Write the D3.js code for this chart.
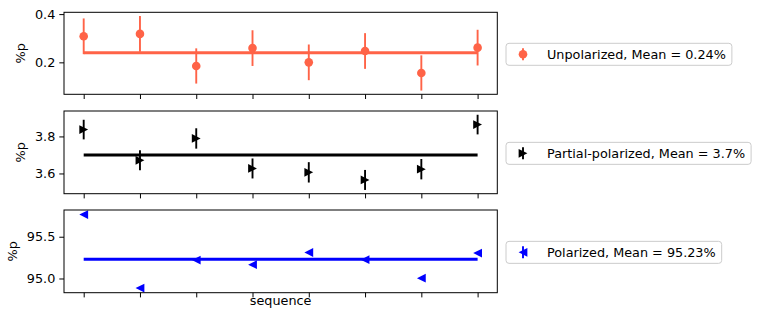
<!DOCTYPE html>
<html>
<head>
<meta charset="utf-8">
<script src="https://cdn.jsdelivr.net/npm/d3@7/dist/d3.min.js"></script>
<style>
  html, body { margin: 0; padding: 0; background: #fff; }
  svg { display: block; font-family: "DejaVu Sans", sans-serif; }
</style>
</head>
<body>
<svg id="chart" width="762" height="320"></svg>
<script>
// ---------------- data ----------------
const sequence = [0, 1, 2, 3, 4, 5, 6, 7];
const xTickLabels = ["", "", "", "", "", "", "", ""];

const unpolarized    = [0.308, 0.318, 0.185, 0.259, 0.200, 0.247, 0.156, 0.261];
const unpolarizedErr = [0.074, 0.074, 0.073, 0.074, 0.074, 0.074, 0.073, 0.074];

const partial    = [3.837, 3.671, 3.789, 3.627, 3.606, 3.565, 3.623, 3.864];
const partialErr = [0.053, 0.054, 0.055, 0.054, 0.055, 0.054, 0.055, 0.053];

const polarized    = [95.765, 94.885, 95.221, 95.166, 95.311, 95.225, 95.004, 95.304];
const polarizedErr = [0.01, 0.01, 0.01, 0.01, 0.01, 0.01, 0.01, 0.01];

const seriesNames = ["Unpolarized", "Partial-polarized", "Polarized"];
const means = [0.24, 3.7, 95.23];
const yTicks = [[0.2, 0.4], [3.6, 3.8], [95.0, 95.5]];
const yTickLabels = [["0.2", "0.4"], ["3.6", "3.8"], ["95.0", "95.5"]];
const colors = ["#ff6347", "#000000", "#0000ff"];
const markers = ["circle", "triRight", "triLeft"];
const yLabel = "%p";
const xLabel = "sequence";

// ---------------- layout ----------------
const svg = d3.select("#chart");
const left = 64, right = 497.3;
const panelsY = [[12.3, 94.3], [111, 193.7], [210, 292.7]];
const fontSize = 12.8;

const x = d3.scaleLinear().domain([-0.35, 7.35]).range([left, right]);

const allValues = [unpolarized, partial, polarized];
const allErrs = [unpolarizedErr, partialErr, polarizedErr];

function markerPath(type, s) {
  const h = s / 2;
  if (type === "triRight") return `M${h},0L${-h},${-h}L${-h},${h}Z`;
  if (type === "triLeft") return `M${-h},0L${h},${-h}L${h},${h}Z`;
  return d3.symbol(d3.symbolCircle, Math.PI * h * h)();
}

allValues.forEach((vals, p) => {
  const errs = allErrs[p];
  const [top, bottom] = panelsY[p];
  const lo = d3.min(vals.map((v, i) => v - errs[i]));
  const hi = d3.max(vals.map((v, i) => v + errs[i]));
  const pad = (hi - lo) * 0.05;
  const y = d3.scaleLinear().domain([lo - pad, hi + pad]).range([bottom, top]);
  const g = svg.append("g");
  const color = colors[p];

  // x axis ticks
  const xAxis = d3.axisBottom(x).tickValues(sequence).tickFormat((d, i) => xTickLabels[i])
    .tickSizeInner(4.7).tickSizeOuter(0);
  const gx = g.append("g").attr("transform", `translate(0,${bottom})`).call(xAxis);
  gx.select(".domain").remove();
  gx.selectAll("line").attr("stroke", "#000").attr("stroke-width", 1);

  // y axis
  const yAxis = d3.axisLeft(y).tickValues(yTicks[p]).tickFormat((d, i) => yTickLabels[p][i])
    .tickSizeInner(4.7).tickSizeOuter(0).tickPadding(4);
  const gy = g.append("g").attr("transform", `translate(${left},0)`).call(yAxis);
  gy.select(".domain").remove();
  gy.selectAll("line").attr("stroke", "#000").attr("stroke-width", 1);
  gy.selectAll("text").attr("font-size", fontSize).attr("font-family", "DejaVu Sans")
    .attr("fill", "#000");

  // y label
  let minX = Infinity;
  gy.selectAll("text").each(function () {
    const b = this.getBBox();
    minX = Math.min(minX, left + b.x);
  });
  const yc = (top + bottom) / 2;
  g.append("text").attr("transform", `translate(${minX - 9.5},${yc}) rotate(-90)`)
    .attr("text-anchor", "middle").attr("font-size", fontSize).attr("fill", "#000").text(yLabel);

  // mean line
  g.append("line")
    .attr("x1", x(sequence[0])).attr("x2", x(sequence[sequence.length - 1]))
    .attr("y1", y(means[p])).attr("y2", y(means[p]))
    .attr("stroke", color).attr("stroke-width", 3);

  // error bars
  g.selectAll(".err").data(vals).enter().append("line")
    .attr("x1", (d, i) => x(sequence[i])).attr("x2", (d, i) => x(sequence[i]))
    .attr("y1", (d, i) => y(d - errs[i])).attr("y2", (d, i) => y(d + errs[i]))
    .attr("stroke", color).attr("stroke-width", 1.9);

  // markers
  const ms = markers[p] === "circle" ? 8.6 : 8.8;
  g.selectAll(".mk").data(vals).enter().append("path")
    .attr("d", markerPath(markers[p], ms))
    .attr("transform", (d, i) => `translate(${x(sequence[i])},${y(d)})`)
    .attr("fill", color);

  // frame
  g.append("rect").attr("x", left).attr("y", top).attr("width", right - left)
    .attr("height", bottom - top).attr("fill", "none").attr("stroke", "#000").attr("stroke-width", 1);

  // legend
  const lg = svg.append("g").attr("transform", `translate(506,${yc + 1})`);
  const label = `${seriesNames[p]}, Mean = ${means[p]}%`;
  const box = lg.append("rect").attr("x", 0).attr("y", -11).attr("height", 22)
    .attr("rx", 3).attr("ry", 3).attr("fill", "#fff").attr("stroke", "#cccccc").attr("stroke-width", 1);
  lg.append("line").attr("x1", 17).attr("x2", 17).attr("y1", -6).attr("y2", 6)
    .attr("stroke", color).attr("stroke-width", 1.9);
  lg.append("path").attr("d", markerPath(markers[p], ms)).attr("transform", "translate(17,0)")
    .attr("fill", color);
  const t = lg.append("text").attr("x", 41).attr("y", 4.6).attr("font-size", fontSize)
    .attr("fill", "#000").text(label);
  const w = t.node().getComputedTextLength();
  box.attr("width", 41 + w + 6);
});

// x label
svg.append("text").attr("x", (left + right) / 2).attr("y", 305)
  .attr("text-anchor", "middle").attr("font-size", fontSize).attr("fill", "#000").text(xLabel);
</script>
</body>
</html>
